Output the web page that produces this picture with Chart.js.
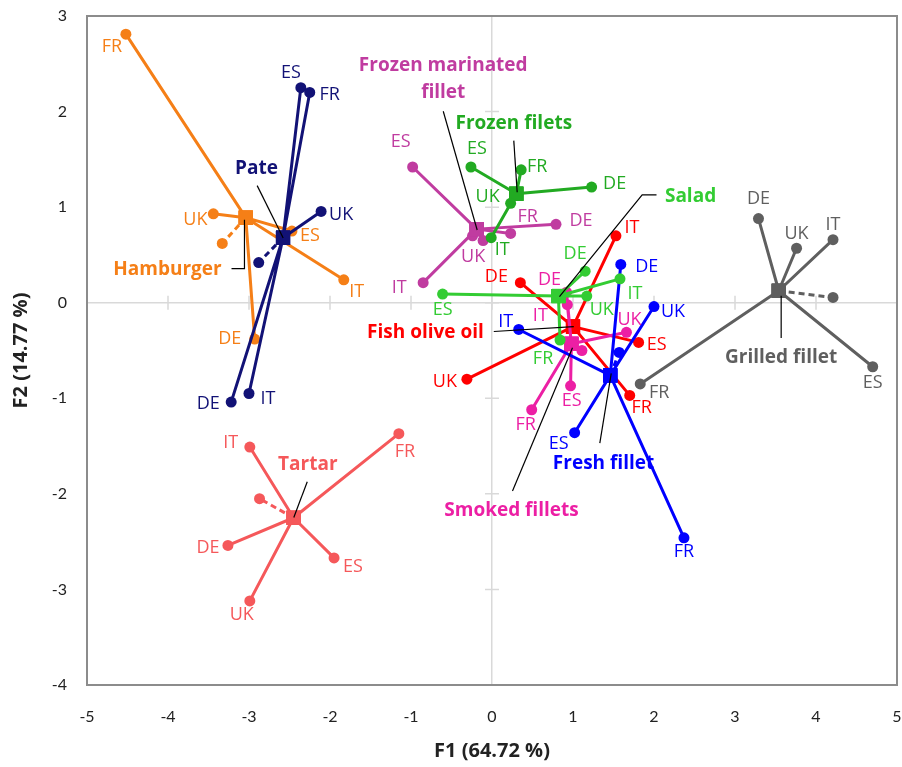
<!DOCTYPE html>
<html>
<head>
<meta charset="utf-8">
<script src="https://cdn.jsdelivr.net/npm/chart.js@4"></script>
<style>
    html, body { margin: 0; padding: 0; background: #fff; }
</style>
</head>
<body>
<canvas id="chart" width="902" height="767"></canvas>
<script>
// Products (drawing order: later ones end up on top)
const products = ['Hamburger', 'Pate', 'Tartar', 'Grilled fillet', 'Fish olive oil',
    'Smoked fillets', 'Fresh fillet', 'Frozen marinated fillet', 'Frozen filets', 'Salad'];
const countries = ['DE', 'ES', 'FR', 'IT', 'UK'];

// Product centroids (F1, F2)
const centroidF1 = [-3.04, -2.58, -2.45, 3.54, 1.00, 0.98, 1.46, -0.19, 0.30, 0.82];
const centroidF2 = [0.89, 0.68, -2.25, 0.125, -0.25, -0.43, -0.76, 0.77, 1.14, 0.07];

// Country points per product, columns in order DE, ES, FR, IT, UK
const countryF1 = [
    [-2.93, -2.47, -4.52, -1.83, -3.44],
    [-3.22, -2.36, -2.25, -3.00, -2.11],
    [-3.26, -1.95, -1.15, -2.99, -2.99],
    [3.29, 4.70, 1.83, 4.21, 3.76],
    [0.35, 1.81, 1.70, 1.53, -0.31],
    [0.92, 0.97, 0.49, 0.93, 1.66],
    [1.59, 1.02, 2.37, 0.33, 2.00],
    [0.79, -0.98, 0.23, -0.85, -0.11],
    [1.23, -0.26, 0.36, -0.01, 0.23],
    [1.15, -0.61, 0.84, 1.58, 1.17]
];
const countryF2 = [
    [-0.38, 0.75, 2.81, 0.24, 0.93],
    [-1.04, 2.25, 2.20, -0.95, 0.955],
    [-2.54, -2.67, -1.37, -1.51, -3.12],
    [0.88, -0.67, -0.85, 0.66, 0.57],
    [0.21, -0.415, -0.97, 0.70, -0.80],
    [0.11, -0.87, -1.12, -0.02, -0.31],
    [0.40, -1.36, -2.46, -0.28, -0.04],
    [0.82, 1.42, 0.725, 0.21, 0.65],
    [1.21, 1.42, 1.39, 0.68, 1.04],
    [0.33, 0.09, -0.39, 0.25, 0.07]
];

// Unlabelled extra point of each product (dashed link), null when none
const extraF1 = [-3.33, -2.88, -2.87, 4.21, null, 1.11, 1.57, -0.24, null, null];
const extraF2 = [0.62, 0.42, -2.05, 0.055, null, -0.50, -0.52, 0.70, null, null];

const productColors = ['#F57F17', '#121276', '#F5585A', '#5F5F5F', '#FF0000',
    '#EC1FA4', '#0000FF', '#C03CA0', '#22AA22', '#33CC33'];

// Country label offsets from their point, in pixels (DE, ES, FR, IT, UK)
const labelOffsets = [
    [[-25, 0], [18, 5], [-14, 13], [13, 12], [-18, 6]],
    [[-23, 2], [-10, -15], [20, 2], [19, 5], [20, 3]],
    [[-20, 2], [19, 9], [6, 18], [-19, -4], [-8, 14]],
    [[0, -20], [0, 16], [19, 9], [0, -15], [0, -14]],
    [[-24, -6], [18, 2], [12, 12], [16, -8], [-22, 3]],
    [[-17, -12], [1, 15], [-6, 15], [-27, 11], [3, -12]],
    [[26, 2], [-16, 11], [0, 14], [-13, -8], [19, 5]],
    [[25, -3], [-12, -25], [17, -17], [-24, 5], [-10, 16]],
    [[23, -3], [6, -18], [16, -3], [11, 12], [-23, -6]],
    [[-10, -17], [0, 16], [-17, 19], [15, 15], [15, 14]]
];

// Product name labels (data coordinates) and their leader lines
const nameLines = [['Hamburger'], ['Pate'], ['Tartar'], ['Grilled fillet'], ['Fish olive oil'],
    ['Smoked fillets'], ['Fresh fillet'], ['Frozen marinated', 'fillet'], ['Frozen filets'], ['Salad']];
const nameF1 = [-4.006, -2.907, -2.274, 3.570, -0.821, 0.241, 1.377, -0.602, 0.269, 2.451];
const nameF2 = [0.346, 1.403, -1.689, -0.579, -0.317, -2.178, -1.686, 2.482, 1.871, 1.110];
const leaders = [
    [[-3.216, 0.356], [-3.056, 0.356], [-3.056, 0.869]],
    [[-2.899, 1.225], [-2.578, 0.677]],
    [[-2.281, -1.874], [-2.447, -2.248]],
    [[3.570, -0.370], [3.570, 0.073]],
    [[0.022, -0.301], [1.010, -0.251]],
    [[0.253, -1.969], [0.994, -0.471]],
    [[1.331, -1.469], [1.472, -0.740]],
    [[-0.602, 2.003], [-0.183, 0.761]],
    [[0.269, 1.696], [0.311, 1.155]],
    [[2.031, 1.128], [1.854, 1.128], [0.833, 0.063]]
];

Chart.defaults.font.family = 'Lato';

const datasets = [];
products.forEach((name, i) => {
    const c = {x: centroidF1[i], y: centroidF2[i]};
    const path = [];
    countries.forEach((cc, k) => {
        path.push(c);
        path.push({x: countryF1[i][k], y: countryF2[i][k]});
    });
    datasets.push({
        label: name,
        data: path,
        showLine: true,
        borderColor: productColors[i],
        backgroundColor: productColors[i],
        borderWidth: 3,
        borderJoinStyle: 'round',
        pointStyle: ctx => ctx.dataIndex % 2 === 0 ? 'rect' : 'circle',
        pointRadius: ctx => ctx.dataIndex % 2 === 0 ? 10 : 5.5,
        pointBorderWidth: 0,
        order: -2 * i
    });
    if (extraF1[i] !== null) {
        datasets.push({
            label: name + ' (extra)',
            data: [c, {x: extraF1[i], y: extraF2[i]}],
            showLine: true,
            borderColor: productColors[i],
            backgroundColor: productColors[i],
            borderWidth: 3,
            borderDash: [6, 4],
            pointRadius: ctx => ctx.dataIndex === 0 ? 0 : 5.5,
            pointBorderWidth: 0,
            order: -2 * i + 1
        });
    }
});

const frame = {
    id: 'frame',
    beforeDatasetsDraw(chart) {
        const {ctx, chartArea: a, scales: {x, y}} = chart;
        ctx.save();
        // small cross ticks along the zero lines
        ctx.strokeStyle = '#d9d9d9';
        ctx.lineWidth = 1.5;
        const x0 = x.getPixelForValue(0);
        const y0 = y.getPixelForValue(0);
        ctx.beginPath();
        for (let v = -4; v <= 4; v++) {
            const px = x.getPixelForValue(v);
            ctx.moveTo(px, y0 - 7);
            ctx.lineTo(px, y0 + 7);
        }
        for (let v = -3; v <= 2; v++) {
            const py = y.getPixelForValue(v);
            ctx.moveTo(x0 - 7, py);
            ctx.lineTo(x0 + 7, py);
        }
        ctx.stroke();
        ctx.strokeStyle = '#8c8c8c';
        ctx.lineWidth = 2;
        ctx.strokeRect(a.left, a.top, a.right - a.left, a.bottom - a.top);
        ctx.restore();
    },
    afterDatasetsDraw(chart) {
        const {ctx, scales: {x, y}} = chart;
        ctx.save();
        ctx.textAlign = 'center';
        ctx.textBaseline = 'middle';

        // country labels
        ctx.font = '18px "Open Sans"';
        products.forEach((name, i) => {
            ctx.fillStyle = productColors[i];
            countries.forEach((cc, k) => {
                const off = labelOffsets[i][k];
                ctx.fillText(cc, x.getPixelForValue(countryF1[i][k]) + off[0],
                    y.getPixelForValue(countryF2[i][k]) + off[1]);
            });
        });

        // leader lines
        ctx.strokeStyle = '#000';
        ctx.lineWidth = 1.2;
        leaders.forEach(line => {
            ctx.beginPath();
            line.forEach((p, j) => {
                const px = x.getPixelForValue(p[0]);
                const py = y.getPixelForValue(p[1]);
                if (j === 0) ctx.moveTo(px, py); else ctx.lineTo(px, py);
            });
            ctx.stroke();
        });

        // product names
        ctx.font = 'bold 19px "Open Sans"';
        products.forEach((name, i) => {
            ctx.fillStyle = productColors[i];
            const px = x.getPixelForValue(nameF1[i]);
            const py = y.getPixelForValue(nameF2[i]);
            nameLines[i].forEach((t, j) => ctx.fillText(t, px, py + j * 27));
        });
        ctx.restore();
    }
};

const zeroGrid = ctx => ctx.tick && ctx.tick.value === 0 ? '#d9d9d9' : 'rgba(0,0,0,0)';

new Chart(document.getElementById('chart').getContext('2d'), {
    type: 'scatter',
    data: {datasets: datasets},
    options: {
        responsive: false,
        animation: false,
        layout: {autoPadding: false, padding: {top: 16, right: 5, left: 0, bottom: 0}},
        plugins: {
            legend: {display: false},
            tooltip: {enabled: false}
        },
        scales: {
            x: {
                type: 'linear',
                min: -5,
                max: 5,
                border: {display: false},
                grid: {color: zeroGrid, lineWidth: 1.5, drawTicks: false},
                ticks: {stepSize: 1, color: '#222', font: {size: 16}, padding: 22},
                title: {
                    display: true,
                    text: 'F1 (64.72 %)',
                    color: '#222',
                    font: {family: '"Open Sans"', size: 20, weight: 'bold'},
                    padding: {top: 0, bottom: 4}
                },
                afterFit(scale) {
                    scale.height = 82;
                    scale.paddingLeft = 0;
                    scale.paddingRight = 0;
                }
            },
            y: {
                type: 'linear',
                min: -4,
                max: 3,
                border: {display: false},
                grid: {color: zeroGrid, lineWidth: 1.5, drawTicks: false},
                ticks: {stepSize: 1, color: '#222', font: {size: 16}, padding: 20},
                title: {
                    display: true,
                    text: 'F2 (14.77 %)',
                    color: '#222',
                    font: {family: '"Open Sans"', size: 20, weight: 'bold'},
                    padding: {top: 9, bottom: 0}
                },
                afterFit(scale) {
                    scale.width = 87;
                    scale.paddingTop = 0;
                    scale.paddingBottom = 0;
                }
            }
        }
    },
    plugins: [frame]
});
</script>
</body>
</html>
